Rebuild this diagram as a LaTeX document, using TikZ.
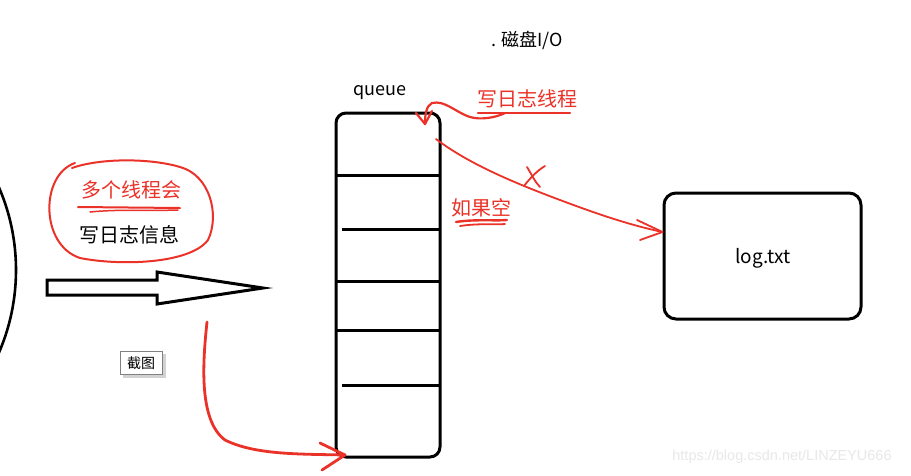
\documentclass[tikz,border=0pt]{standalone}
\usepackage{fontspec}
\setmainfont{Noto Sans CJK SC}
\newfontfamily\cjk{Noto Sans CJK SC}
\usetikzlibrary{calc}
\definecolor{pen}{RGB}{235,50,40}
\tikzset{
  blk/.style={draw=black,line width=3pt},
  redpen/.style={draw=pen,line width=2.2pt,line cap=round,line join=round},
  lbl/.style={inner sep=0pt,font=\cjk\fontsize{18}{18}\selectfont},
  redlbl/.style={lbl,text=pen,font=\cjk\fontsize{20}{20}\selectfont},
}
\begin{document}
\begin{tikzpicture}[x=1pt,y=-1pt]
\useasboundingbox[fill=white] (0,0) rectangle (911,475);
% big circle at left
\draw[blk,line width=2.6pt] (-192,270) circle (208);
% title
\node[lbl] (disk) at (527,40) {. 磁盘I/O};
% queue
\draw[blk,rounded corners=10pt] (336,113) rectangle (440,457);
\node[lbl] (qlabel) at (380,93) {queue};
\foreach \yy/\xs in {175/336,229/342,281/336,330/336,385/342}{
  \draw[blk] (\xs,\yy) -- (440,\yy);
}
\coordinate (qtr) at (425,124);
\coordinate (qside) at (436,139);
\coordinate (qbl) at (345,455);
% log box
\node[blk,rounded corners=12pt,minimum width=197pt,minimum height=126pt,
      inner sep=0pt] (log) at (762.5,256) {};
\node[lbl,font=\cjk\fontsize{19}{19}\selectfont] (logtxt) at (763,258) {log.txt};
% red blob with text
\draw[redpen,line width=2pt] (75,163) .. controls (40,175) and (40,245) .. (80,258)
  .. controls (120,266) and (190,264) .. (208,240)
  .. controls (220,215) and (210,175) .. (180,167)
  .. controls (150,158) and (100,158) .. (72,168);
\node[redlbl] (multi) at (131,190) {多个线程会};
\draw[redpen,line width=2pt] (78,207) -- (180,208);
\draw[redpen,line width=1.5pt] (90,212) .. controls (120,209) and (150,211) .. (178,210);
\node[lbl,font=\cjk\fontsize{20}{20}\selectfont] (info) at (129,235) {写日志信息};
% hollow arrow
\draw[black,line width=3pt,line join=miter] (47,280) -- (157,280) -- (157,272) -- (263,288)
  -- (157,304) -- (157,295) -- (47,295) -- cycle;
% write thread label
\node[redlbl] (wthread) at (527,99) {写日志线程};
\draw[redpen] (478,113) -- (570,113);
\draw[redpen] (505,113) .. controls (495,118) and (480,120) .. (470,117)
  .. controls (455,112) and (445,100) .. (432,103)
  .. controls (426,106) and (425,115) .. (qtr);
\draw[redpen] (416,113) -- (qtr) -- (432,111);
% line to log box
\draw[redpen,line width=1.8pt] (qside) .. controls (470,165) and (520,185) .. (560,200)
  .. controls (600,215) and (630,225) .. (log.west|-0,232);
\draw[redpen,line width=1.8pt] (637,220) -- (log.west|-0,232) -- (640,240);
% cross
\draw[redpen,line width=1.8pt] (524,186) .. controls (530,178) and (538,170) .. (545,166);
\draw[redpen,line width=1.8pt] (527,167) .. controls (532,175) and (535,182) .. (540,187);
% if empty
\node[redlbl] (empty) at (481,208) {如果空};
\draw[redpen,line width=2.4pt] (456,222) .. controls (475,219) and (495,221) .. (507,220);
\draw[redpen,line width=1.8pt] (460,226) .. controls (480,223) and (495,225) .. (505,224);
% screenshot button
\fill[gray!35] (123,354) rectangle (166,378);
\node[draw=gray,fill=white,line width=0.8pt,minimum width=42pt,minimum height=23pt,
      inner sep=0pt,font=\cjk\fontsize{14}{14}\selectfont] (shot) at (141,363) {截图};
% red curve bottom
\draw[redpen,line width=2.8pt] (207,322) .. controls (203,360) and (198,420) .. (225,440)
  .. controls (255,455) and (300,454) .. (qbl);
\draw[redpen,line width=2.8pt] (320,443) -- (qbl) -- (322,470);
% watermark
\node[font=\fontspec{Liberation Sans}\fontsize{14.5}{14.5}\selectfont,text=gray!18] (wm) at (782,457) {https://blog.csdn.net/LINZEYU666};
\end{tikzpicture}
\end{document}
